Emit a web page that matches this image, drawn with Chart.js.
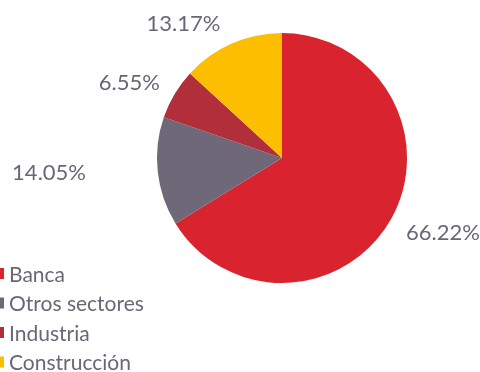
<!DOCTYPE html>
<html>
<head>
<meta charset="utf-8">
<script src="https://cdn.jsdelivr.net/npm/chart.js@4/dist/chart.umd.min.js"></script>
<style>
  html, body { margin: 0; padding: 0; background: #fff; }
  #wrap { width: 480px; height: 372px; position: relative; }
</style>
</head>
<body>
<div id="wrap"><canvas id="pieChart" width="480" height="372"></canvas></div>
<script>
const sectors = ['Banca', 'Otros sectores', 'Industria', 'Construcción'];
const shares = [66.22, 14.05, 6.55, 13.17];
const sliceColors = ['#D9232E', '#6E6878', '#B02F3B', '#FDBE00'];

const textColor = '#6B6677';
const fontFamily = 'Lato, "Open Sans", sans-serif';
// small nudges so the value labels sit where the original put them
const labelNudge = [[10, -10], [-61, -4], [-4, 13], [-29, 24]];

const valueLabels = {
    id: 'valueLabels',
    afterDatasetsDraw(chart) {
        const ctx = chart.ctx;
        const meta = chart.getDatasetMeta(0);
        ctx.save();
        ctx.fillStyle = textColor;
        ctx.font = '22px ' + fontFamily;
        ctx.textAlign = 'center';
        ctx.textBaseline = 'middle';
        meta.data.forEach((arc, i) => {
            const p = arc.getProps(['x', 'y', 'startAngle', 'endAngle', 'outerRadius'], true);
            const mid = (p.startAngle + p.endAngle) / 2;
            const r = p.outerRadius + 48;
            const x = p.x + Math.cos(mid) * r + labelNudge[i][0];
            const y = p.y + Math.sin(mid) * r + labelNudge[i][1];
            ctx.fillText(shares[i].toFixed(2) + '%', x, y);
        });
        ctx.restore();
    }
};

const sideLegend = {
    id: 'sideLegend',
    afterDraw(chart) {
        const ctx = chart.ctx;
        ctx.save();
        ctx.font = '21px ' + fontFamily;
        ctx.textBaseline = 'middle';
        ctx.textAlign = 'left';
        chart.data.labels.forEach((label, i) => {
            const y = 274 + i * 29.5;
            ctx.fillStyle = sliceColors[i];
            ctx.fillRect(0, y - 6, 4, 11);
            ctx.fillStyle = textColor;
            ctx.fillText(label, 9, y + 1);
        });
        ctx.restore();
    }
};

new Chart(document.getElementById('pieChart').getContext('2d'), {
    type: 'pie',
    data: {
        labels: sectors,
        datasets: [{
            data: shares,
            backgroundColor: sliceColors,
            borderWidth: 0
        }]
    },
    options: {
        responsive: false,
        animation: false,
        layout: { padding: { top: 33, bottom: 89, left: 157, right: 73 } },
        plugins: {
            legend: { display: false },
            tooltip: { enabled: false }
        }
    },
    plugins: [valueLabels, sideLegend]
});
</script>
</body>
</html>
